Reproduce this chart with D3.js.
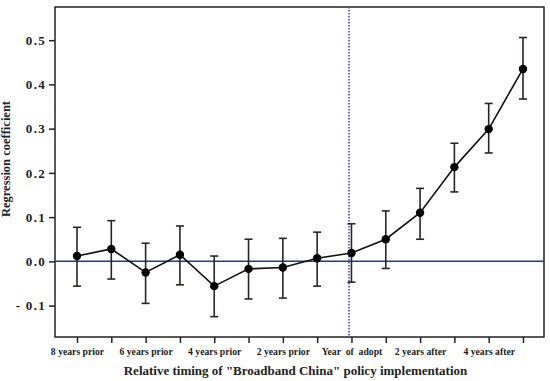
<!DOCTYPE html>
<html>
<head>
<meta charset="utf-8">
<script src="https://cdn.jsdelivr.net/npm/d3@7"></script>
<style>
  body { margin: 0; background: #fff; }
  text { font-family: "Liberation Serif", "Times New Roman", serif; fill: #222; }
</style>
</head>
<body>
<div id="eventplot"></div>
<script>

// relative years, 8 years before adoption to 5 years after
var periods = ["-8", "-7", "-6", "-5", "-4", "-3", "-2", "-1", "0", "1", "2", "3", "4", "5"]
var tickLabels = ["8 years prior", "", "6 years prior", "", "4 years prior", "", "2 years prior", "",
                  "Year  of  adopt", "", "2 years after", "", "4 years after", ""]

// point estimates and 95% confidence bounds
var coef  = [0.012, 0.028, -0.025, 0.015, -0.056, -0.017, -0.014, 0.007, 0.019, 0.050, 0.110, 0.213, 0.299, 0.435]
var upper = [0.077, 0.092, 0.041, 0.080, 0.012, 0.050, 0.052, 0.066, 0.085, 0.114, 0.165, 0.267, 0.357, 0.506]
var lower = [-0.056, -0.040, -0.095, -0.053, -0.125, -0.085, -0.083, -0.056, -0.047, -0.016, 0.050, 0.157, 0.245, 0.367]

var yTicks = [-0.1, 0, 0.1, 0.2, 0.3, 0.4, 0.5]

// set the dimensions and margins of the graph
var margin = {top: 7, right: 6, bottom: 44, left: 55},
    width = 550 - margin.left - margin.right,
    height = 381 - margin.top - margin.bottom;

var svg = d3.select("#eventplot")
  .append("svg")
    .attr("width", width + margin.left + margin.right)
    .attr("height", height + margin.top + margin.bottom)
  .append("g")
    .attr("transform", "translate(" + margin.left + "," + margin.top + ")");

// X scale (points)
var x = d3.scalePoint()
  .domain(periods)
  .range([22, 468]);

// Y scale
var y = d3.scaleLinear()
  .domain([-0.171, 0.575])
  .range([height, 0]);

// X axis
var xAxis = svg.append("g")
  .attr("transform", "translate(0," + height + ")")
  .call(d3.axisBottom(x).tickSize(6).tickSizeOuter(0)
    .tickFormat(function(d, i) { return tickLabels[i]; }))
xAxis.select(".domain").remove()
xAxis.selectAll(".tick line").attr("stroke", "#222").attr("stroke-width", 1.5)
xAxis.selectAll("text")
  .attr("y", 11)
  .style("font-size", "9.7px")
  .style("font-weight", "bold")
  .style("white-space", "pre")
  .style("fill", "#222")

// Y axis
var yAxis = svg.append("g")
  .call(d3.axisLeft(y).tickValues(yTicks).tickSize(6).tickSizeOuter(0)
    .tickFormat(function(d) { return d < 0 ? "- " + Math.abs(d).toFixed(1) : d.toFixed(1); }))
yAxis.select(".domain").remove()
yAxis.selectAll(".tick line").attr("stroke", "#222").attr("stroke-width", 1.5)
yAxis.selectAll("text")
  .attr("x", -9)
  .style("font-size", "13px")
  .style("font-weight", "bold")
  .style("letter-spacing", "1.3px")
  .style("fill", "#222")

// frame
svg.append("rect")
  .attr("x", 0)
  .attr("y", 0)
  .attr("width", width)
  .attr("height", height)
  .attr("fill", "none")
  .attr("stroke", "#222")
  .attr("stroke-width", 1.5)

// zero reference line
svg.append("line")
  .attr("x1", 0)
  .attr("x2", width)
  .attr("y1", y(0))
  .attr("y2", y(0))
  .attr("stroke", "#1e3a94")
  .attr("stroke-width", 1.5)

// policy year (dotted)
svg.append("line")
  .attr("x1", x("0") - 2.5)
  .attr("x2", x("0") - 2.5)
  .attr("y1", 0)
  .attr("y2", height)
  .attr("stroke", "#2a4bb0")
  .attr("stroke-width", 1.5)
  .attr("stroke-dasharray", "1.5,1.5")

var rows = periods.map(function(p, i) {
  return {p: p, c: coef[i], lo: lower[i], hi: upper[i]}
})

// error bars
var bars = svg.selectAll(".ci")
  .data(rows)
  .enter()
  .append("g")
    .attr("class", "ci")
    .attr("stroke", "#2b2422")
    .attr("stroke-width", 1.6)
bars.append("line")
  .attr("x1", function(d) { return x(d.p); })
  .attr("x2", function(d) { return x(d.p); })
  .attr("y1", function(d) { return y(d.lo); })
  .attr("y2", function(d) { return y(d.hi); })
bars.append("line")
  .attr("x1", function(d) { return x(d.p) - 4; })
  .attr("x2", function(d) { return x(d.p) + 4; })
  .attr("y1", function(d) { return y(d.hi); })
  .attr("y2", function(d) { return y(d.hi); })
bars.append("line")
  .attr("x1", function(d) { return x(d.p) - 4; })
  .attr("x2", function(d) { return x(d.p) + 4; })
  .attr("y1", function(d) { return y(d.lo); })
  .attr("y2", function(d) { return y(d.lo); })

// coefficient line
svg.append("path")
  .datum(rows)
  .attr("fill", "none")
  .attr("stroke", "#111")
  .attr("stroke-width", 1.6)
  .attr("d", d3.line()
    .x(function(d) { return x(d.p); })
    .y(function(d) { return y(d.c); }))

// dots
svg.selectAll(".dot")
  .data(rows)
  .enter()
  .append("circle")
    .attr("class", "dot")
    .attr("cx", function(d) { return x(d.p); })
    .attr("cy", function(d) { return y(d.c); })
    .attr("r", 4.2)
    .attr("fill", "#000")

// axis titles
svg.append("text")
  .attr("x", width / 2 - 4)
  .attr("y", height + 38)
  .attr("text-anchor", "middle")
  .style("font-size", "13px")
  .style("font-weight", "bold")
  .text("Relative timing of \"Broadband China\" policy implementation")

svg.append("text")
  .attr("transform", "translate(" + (-45) + "," + (152) + ")rotate(-90)")
  .attr("text-anchor", "middle")
  .style("font-size", "12.5px")
  .style("font-weight", "bold")
  .text("Regression coefficient")

</script>
</body>
</html>
